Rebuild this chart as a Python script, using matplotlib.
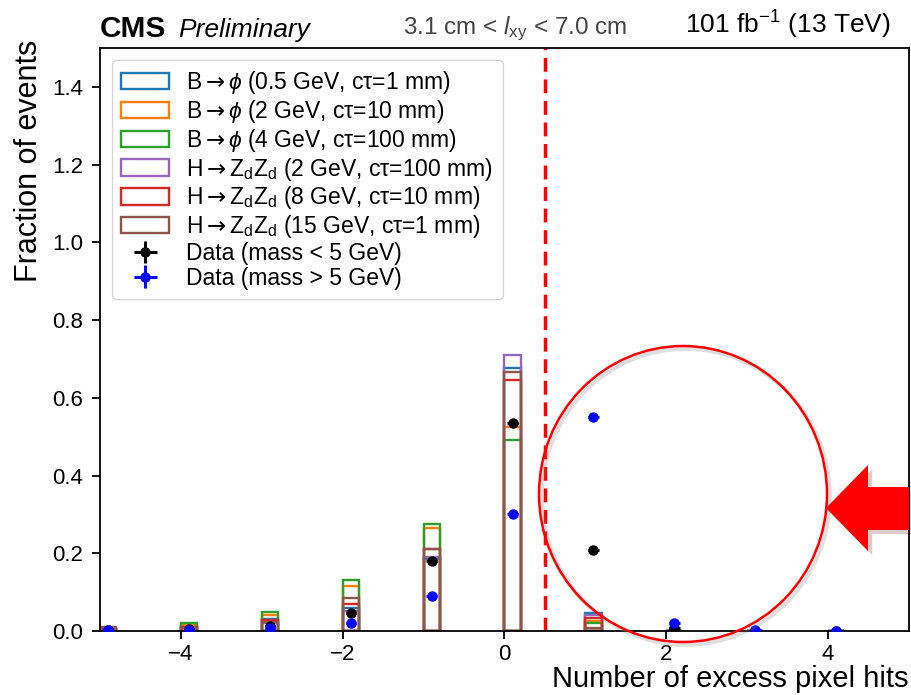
import numpy as np
import matplotlib
matplotlib.use("Agg")
import matplotlib.pyplot as plt
import matplotlib.patches as mpatches
import matplotlib.patheffects as pe

plt.rcParams["font.family"] = ["Liberation Sans", "DejaVu Sans"]
plt.rcParams["mathtext.fontset"] = "custom"
plt.rcParams["mathtext.rm"] = "Liberation Sans"
plt.rcParams["mathtext.it"] = "Liberation Sans:italic"
plt.rcParams["mathtext.bf"] = "Liberation Sans:bold"
plt.rcParams["mathtext.sf"] = "DejaVu Sans"  # only used for the arrow glyph

# # # # # # # # # # # # # # # # # # # # # # # # # # # # # # # # # # # # # #
# DATA
# # # # # # # # # # # # # # # # # # # # # # # # # # # # # # # # # # # # # #

bin_left = np.array([-5, -4, -3, -2, -1, 0, 1, 2, 3, 4])  # excess pixel hits

signal_labels = [
    r"B$\mathsf{\rightarrow}\phi$ (0.5 GeV, cτ=1 mm)",
    r"B$\mathsf{\rightarrow}\phi$ (2 GeV, cτ=10 mm)",
    r"B$\mathsf{\rightarrow}\phi$ (4 GeV, cτ=100 mm)",
    r"H$\mathsf{\rightarrow}$Z$_\mathrm{d}$Z$_\mathrm{d}$ (2 GeV, cτ=100 mm)",
    r"H$\mathsf{\rightarrow}$Z$_\mathrm{d}$Z$_\mathrm{d}$ (8 GeV, cτ=10 mm)",
    r"H$\mathsf{\rightarrow}$Z$_\mathrm{d}$Z$_\mathrm{d}$ (15 GeV, cτ=1 mm)",
]
signal_colors = ["#1f77b4", "#ff7f0e", "#2ca02c", "#9467bd", "#d62728", "#8c564b"]

b_phi_05 = [0.005, 0.012, 0.030, 0.060, 0.185, 0.676, 0.046, 0.0, 0.0, 0.0]
b_phi_2 = [0.005, 0.015, 0.041, 0.116, 0.265, 0.524, 0.025, 0.0, 0.0, 0.0]
b_phi_4 = [0.006, 0.020, 0.049, 0.132, 0.276, 0.491, 0.021, 0.0, 0.0, 0.0]
h_zdzd_2 = [0.004, 0.008, 0.020, 0.052, 0.190, 0.709, 0.040, 0.0, 0.0, 0.0]
h_zdzd_8 = [0.005, 0.010, 0.028, 0.070, 0.212, 0.646, 0.033, 0.0, 0.0, 0.0]
h_zdzd_15 = [0.010, 0.008, 0.022, 0.086, 0.210, 0.666, 0.007, 0.0, 0.0, 0.0]
signals = [b_phi_05, b_phi_2, b_phi_4, h_zdzd_2, h_zdzd_8, h_zdzd_15]

data_low = [0.002, 0.004, 0.013, 0.047, 0.179, 0.534, 0.209, 0.007, 0.001, 0.001]
data_low_err = [0.001, 0.001, 0.002, 0.003, 0.004, 0.005, 0.004, 0.001, 0.001, 0.001]
data_high = [0.002, 0.003, 0.009, 0.021, 0.090, 0.301, 0.550, 0.020, 0.002, 0.0]
data_high_err = [0.001, 0.001, 0.002, 0.003, 0.004, 0.005, 0.005, 0.002, 0.001, 0.001]

BIN_WIDTH = 0.2
CUT = 0.5

# # # # # # # # # # # # # # # # # # # # # # # # # # # # # # # # # # # # # #
# PLOT
# # # # # # # # # # # # # # # # # # # # # # # # # # # # # # # # # # # # # #

W, H = 912, 695
fig = plt.figure(figsize=(W / 100, H / 100), dpi=100)
ax = fig.add_axes([100 / W, 1 - 631 / H, 809 / W, 583 / H])

handles = []
for vals, lab, col in zip(signals, signal_labels, signal_colors):
    bars = ax.bar(bin_left, vals, width=BIN_WIDTH, align="edge", fill=False,
                  edgecolor=col, linewidth=1.7, label=lab)
    handles.append(bars)

centers = bin_left + BIN_WIDTH / 2
h_low = ax.errorbar(centers, data_low, yerr=data_low_err, xerr=0.065, fmt="o",
                    color="black", ms=6.5, elinewidth=2.2, capsize=0,
                    label="Data (mass < 5 GeV)", zorder=5)
h_high = ax.errorbar(centers, data_high, yerr=data_high_err, xerr=0.065, fmt="o",
                     color="blue", ms=6.5, elinewidth=2.2, capsize=0,
                     label="Data (mass > 5 GeV)", zorder=6)
handles += [h_low, h_high]

ax.axvline(CUT, color="red", linestyle="--", linewidth=2.5, dashes=(4, 2.2))

ax.set_xlim(-5, 5)
ax.set_ylim(0, 1.5)
ax.set_xticks([-4, -2, 0, 2, 4])
ax.set_yticks(np.arange(0, 1.41, 0.2))
ax.set_yticklabels([f"{v:.1f}" for v in np.arange(0, 1.41, 0.2)])
ax.tick_params(labelsize=16, length=6, width=1.3, direction="out")
ax.tick_params(axis="y", pad=6)
ax.tick_params(axis="x", pad=3)
for sp in ax.spines.values():
    sp.set_linewidth(1.3)

ax.set_xlabel("Number of excess pixel hits", fontsize=21, loc="right")
ax.xaxis.set_label_coords(1.0, -0.059)
ax.set_ylabel("Fraction of events", fontsize=22, loc="top")
ax.yaxis.set_label_coords(-0.0695, 1.014)

ax.legend(handles=handles, loc="upper left", fontsize=16.5, frameon=True,
          fancybox=True, edgecolor="#cccccc", borderaxespad=0.52,
          handlelength=2.1, handleheight=0.72, handletextpad=0.75,
          labelspacing=0.08, borderpad=0.4)

ax.text(0, 1.019, "CMS", transform=ax.transAxes, fontsize=21.5,
        fontweight="bold", va="baseline", ha="left")
ax.text(0.0964, 1.019, "Preliminary", transform=ax.transAxes, fontsize=19,
        style="italic", va="baseline", ha="left")
ax.text(0.513, 1.024, r"3.1 cm < $l_\mathrm{xy}$ < 7.0 cm", transform=ax.transAxes,
        fontsize=17.5, color="#444444", va="baseline", ha="center")
ax.text(0.977, 1.024, r"101 fb$^{-1}$ (13 TeV)", transform=ax.transAxes,
        fontsize=19, va="baseline", ha="right")


# annotation overlay (circle + arrow), placed in figure pixels
def px(x, y):
    return x / W, 1 - y / H


circle = mpatches.Ellipse(px(683, 494), 288 / W, 296 / H, transform=fig.transFigure,
                          fill=False, edgecolor="red", linewidth=1.8, zorder=20,
                          path_effects=[pe.SimpleLineShadow(offset=(2, -2), shadow_color="gray",
                                                            alpha=0.25, linewidth=3),
                                        pe.Normal()])
fig.add_artist(circle)

arrow_px = [(826, 508), (868, 465), (868, 487), (909, 487),
            (909, 530), (868, 530), (868, 551)]
arrow = mpatches.Polygon([px(x, y) for x, y in arrow_px], closed=True,
                         transform=fig.transFigure, facecolor="red", edgecolor="none",
                         zorder=20,
                         path_effects=[pe.SimplePatchShadow(offset=(3, -3), alpha=0.2),
                                       pe.Normal()])
fig.add_artist(arrow)

fig.savefig("out.png", dpi=100)
